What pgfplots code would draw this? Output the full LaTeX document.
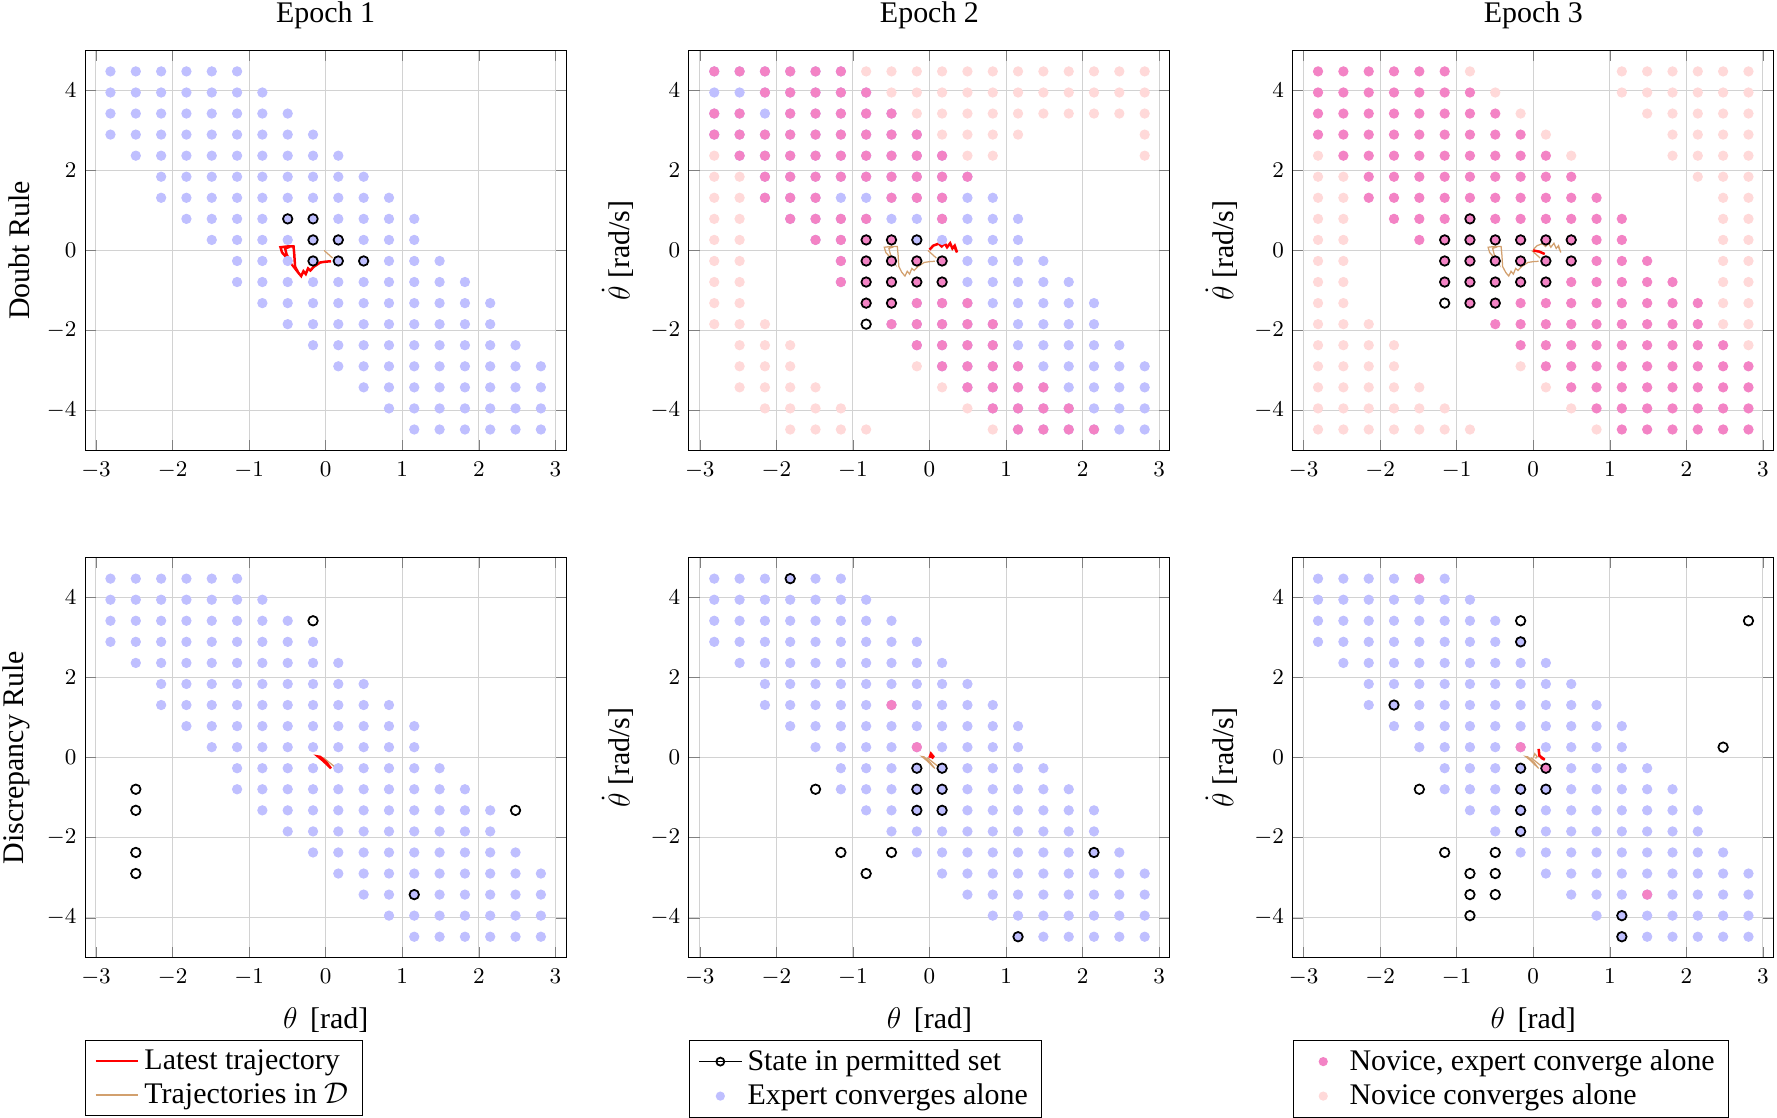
\documentclass[border=0pt]{standalone}
\usepackage{fontspec}
\setmainfont{Liberation Serif}
\usepackage{pgfplots}
\usepackage{pgfplotstable}
\pgfplotsset{compat=1.18}

\definecolor{cexp}{RGB}{191,191,255}
\definecolor{cboth}{RGB}{243,131,197}
\definecolor{cnov}{RGB}{255,217,217}
\definecolor{ctraj}{RGB}{210,160,110}

% full grid region where the expert converges alone
\pgfplotstableread[row sep=\\]{x y\\
-2.811 4.474\\ -2.480 4.474\\ -2.149 4.474\\ -1.819 4.474\\ -1.488 4.474\\ -1.157 4.474\\
-2.811 3.947\\ -2.480 3.947\\ -2.149 3.947\\ -1.819 3.947\\ -1.488 3.947\\ -1.157 3.947\\ -0.827 3.947\\
-2.811 3.421\\ -2.480 3.421\\ -2.149 3.421\\ -1.819 3.421\\ -1.488 3.421\\ -1.157 3.421\\ -0.827 3.421\\ -0.496 3.421\\
-2.811 2.895\\ -2.480 2.895\\ -2.149 2.895\\ -1.819 2.895\\ -1.488 2.895\\ -1.157 2.895\\ -0.827 2.895\\ -0.496 2.895\\ -0.165 2.895\\
-2.480 2.368\\ -2.149 2.368\\ -1.819 2.368\\ -1.488 2.368\\ -1.157 2.368\\ -0.827 2.368\\ -0.496 2.368\\ -0.165 2.368\\ 0.165 2.368\\
-2.149 1.842\\ -1.819 1.842\\ -1.488 1.842\\ -1.157 1.842\\ -0.827 1.842\\ -0.496 1.842\\ -0.165 1.842\\ 0.165 1.842\\ 0.496 1.842\\
-2.149 1.316\\ -1.819 1.316\\ -1.488 1.316\\ -1.157 1.316\\ -0.827 1.316\\ -0.496 1.316\\ -0.165 1.316\\ 0.165 1.316\\ 0.496 1.316\\ 0.827 1.316\\
-1.819 0.789\\ -1.488 0.789\\ -1.157 0.789\\ -0.827 0.789\\ -0.496 0.789\\ -0.165 0.789\\ 0.165 0.789\\ 0.496 0.789\\ 0.827 0.789\\ 1.157 0.789\\
-1.488 0.263\\ -1.157 0.263\\ -0.827 0.263\\ -0.496 0.263\\ -0.165 0.263\\ 0.165 0.263\\ 0.496 0.263\\ 0.827 0.263\\ 1.157 0.263\\
-1.157 -0.263\\ -0.827 -0.263\\ -0.496 -0.263\\ -0.165 -0.263\\ 0.165 -0.263\\ 0.496 -0.263\\ 0.827 -0.263\\ 1.157 -0.263\\ 1.488 -0.263\\
-1.157 -0.789\\ -0.827 -0.789\\ -0.496 -0.789\\ -0.165 -0.789\\ 0.165 -0.789\\ 0.496 -0.789\\ 0.827 -0.789\\ 1.157 -0.789\\ 1.488 -0.789\\ 1.819 -0.789\\
-0.827 -1.316\\ -0.496 -1.316\\ -0.165 -1.316\\ 0.165 -1.316\\ 0.496 -1.316\\ 0.827 -1.316\\ 1.157 -1.316\\ 1.488 -1.316\\ 1.819 -1.316\\ 2.149 -1.316\\
-0.496 -1.842\\ -0.165 -1.842\\ 0.165 -1.842\\ 0.496 -1.842\\ 0.827 -1.842\\ 1.157 -1.842\\ 1.488 -1.842\\ 1.819 -1.842\\ 2.149 -1.842\\
-0.165 -2.368\\ 0.165 -2.368\\ 0.496 -2.368\\ 0.827 -2.368\\ 1.157 -2.368\\ 1.488 -2.368\\ 1.819 -2.368\\ 2.149 -2.368\\ 2.480 -2.368\\
0.165 -2.895\\ 0.496 -2.895\\ 0.827 -2.895\\ 1.157 -2.895\\ 1.488 -2.895\\ 1.819 -2.895\\ 2.149 -2.895\\ 2.480 -2.895\\ 2.811 -2.895\\
0.496 -3.421\\ 0.827 -3.421\\ 1.157 -3.421\\ 1.488 -3.421\\ 1.819 -3.421\\ 2.149 -3.421\\ 2.480 -3.421\\ 2.811 -3.421\\
0.827 -3.947\\ 1.157 -3.947\\ 1.488 -3.947\\ 1.819 -3.947\\ 2.149 -3.947\\ 2.480 -3.947\\ 2.811 -3.947\\
1.157 -4.474\\ 1.488 -4.474\\ 1.819 -4.474\\ 2.149 -4.474\\ 2.480 -4.474\\ 2.811 -4.474\\
}\band

% Doubt rule, epoch 2: novice and expert converge
\pgfplotstableread[row sep=\\]{x y\\
-2.811 4.474\\ -2.480 4.474\\ -2.149 4.474\\ -1.819 4.474\\ -1.488 4.474\\ -1.157 4.474\\
-2.149 3.947\\ -1.819 3.947\\ -1.488 3.947\\ -1.157 3.947\\ -0.827 3.947\\
-2.811 3.421\\ -2.480 3.421\\ -1.819 3.421\\ -1.488 3.421\\ -1.157 3.421\\ -0.827 3.421\\ -0.496 3.421\\
-2.811 2.895\\ -2.480 2.895\\ -2.149 2.895\\ -1.819 2.895\\ -1.488 2.895\\ -1.157 2.895\\ -0.827 2.895\\ -0.496 2.895\\ -0.165 2.895\\
-2.480 2.368\\ -2.149 2.368\\ -1.819 2.368\\ -1.488 2.368\\ -1.157 2.368\\ -0.827 2.368\\ -0.496 2.368\\ -0.165 2.368\\ 0.165 2.368\\
-2.149 1.842\\ -1.819 1.842\\ -1.488 1.842\\ -1.157 1.842\\ -0.827 1.842\\ -0.496 1.842\\ -0.165 1.842\\ 0.165 1.842\\ 0.496 1.842\\
-2.149 1.316\\ -1.819 1.316\\ -1.488 1.316\\ -0.496 1.316\\ -0.165 1.316\\ 0.165 1.316\\
-1.819 0.789\\ -1.488 0.789\\ -1.157 0.789\\ -0.827 0.789\\ 0.165 0.789\\
-1.488 0.263\\ -1.157 0.263\\ -0.827 0.263\\ -0.496 0.263\\
-1.157 -0.263\\ -0.827 -0.263\\ -0.496 -0.263\\ -0.165 -0.263\\ 0.165 -0.263\\
-1.157 -0.789\\ -0.827 -0.789\\ -0.496 -0.789\\ -0.165 -0.789\\ 0.165 -0.789\\
-0.827 -1.316\\ -0.496 -1.316\\ -0.165 -1.316\\ 0.165 -1.316\\ 0.496 -1.316\\
-0.496 -1.842\\ -0.165 -1.842\\ 0.165 -1.842\\ 0.496 -1.842\\ 0.827 -1.842\\
-0.165 -2.368\\ 0.165 -2.368\\ 0.496 -2.368\\ 0.827 -2.368\\
0.165 -2.895\\ 0.496 -2.895\\ 0.827 -2.895\\ 1.157 -2.895\\
0.496 -3.421\\ 0.827 -3.421\\ 1.157 -3.421\\ 1.488 -3.421\\
0.827 -3.947\\ 1.157 -3.947\\ 1.488 -3.947\\ 1.819 -3.947\\
1.157 -4.474\\ 1.488 -4.474\\ 1.819 -4.474\\ 2.149 -4.474\\
}\MixB

% Doubt rule, epoch 2: novice converges alone
\pgfplotstableread[row sep=\\]{x y\\
-0.827 4.474\\ -0.496 4.474\\ -0.165 4.474\\ 0.165 4.474\\ 0.496 4.474\\ 0.827 4.474\\ 1.157 4.474\\ 1.488 4.474\\ 1.819 4.474\\ 2.149 4.474\\ 2.480 4.474\\ 2.811 4.474\\
-0.496 3.947\\ -0.165 3.947\\ 0.165 3.947\\ 0.496 3.947\\ 0.827 3.947\\ 1.157 3.947\\ 1.488 3.947\\ 1.819 3.947\\ 2.149 3.947\\ 2.480 3.947\\ 2.811 3.947\\
-0.165 3.421\\ 0.165 3.421\\ 0.496 3.421\\ 0.827 3.421\\ 1.157 3.421\\ 1.488 3.421\\ 1.819 3.421\\ 2.149 3.421\\ 2.480 3.421\\ 2.811 3.421\\
0.165 2.895\\ 0.496 2.895\\ 0.827 2.895\\ 1.157 2.895\\ 2.811 2.895\\
-2.811 2.368\\ 0.496 2.368\\ 0.827 2.368\\ 2.811 2.368\\
-2.811 1.842\\ -2.480 1.842\\
-2.811 1.316\\ -2.480 1.316\\
-2.811 0.789\\ -2.480 0.789\\
-2.811 0.263\\ -2.480 0.263\\
-2.811 -0.263\\ -2.480 -0.263\\
-2.811 -0.789\\ -2.480 -0.789\\
-2.811 -1.316\\ -2.480 -1.316\\
-2.811 -1.842\\ -2.480 -1.842\\ -2.149 -1.842\\
-2.480 -2.368\\ -2.149 -2.368\\ -1.819 -2.368\\
-2.480 -2.895\\ -2.149 -2.895\\ -1.819 -2.895\\ -0.165 -2.895\\
-2.480 -3.421\\ -2.149 -3.421\\ -1.819 -3.421\\ -1.488 -3.421\\ 0.165 -3.421\\
-2.149 -3.947\\ -1.819 -3.947\\ -1.488 -3.947\\ -1.157 -3.947\\ 0.496 -3.947\\
-1.819 -4.474\\ -1.488 -4.474\\ -1.157 -4.474\\ -0.827 -4.474\\ 0.827 -4.474\\
}\NovB

% Doubt rule, epoch 3: novice converges alone
\pgfplotstableread[row sep=\\]{x y\\
-0.827 4.474\\ 1.157 4.474\\ 1.488 4.474\\ 1.819 4.474\\ 2.149 4.474\\ 2.480 4.474\\ 2.811 4.474\\
-0.496 3.947\\ 1.157 3.947\\ 1.488 3.947\\ 1.819 3.947\\ 2.149 3.947\\ 2.480 3.947\\ 2.811 3.947\\
-0.165 3.421\\ 1.488 3.421\\ 1.819 3.421\\ 2.149 3.421\\ 2.480 3.421\\ 2.811 3.421\\
0.165 2.895\\ 1.819 2.895\\ 2.149 2.895\\ 2.480 2.895\\ 2.811 2.895\\
-2.811 2.368\\ 0.496 2.368\\ 1.819 2.368\\ 2.149 2.368\\ 2.480 2.368\\ 2.811 2.368\\
-2.811 1.842\\ -2.480 1.842\\ 2.149 1.842\\ 2.480 1.842\\ 2.811 1.842\\
-2.811 1.316\\ -2.480 1.316\\ 2.480 1.316\\ 2.811 1.316\\
-2.811 0.789\\ -2.480 0.789\\ 2.480 0.789\\ 2.811 0.789\\
-2.811 0.263\\ -2.480 0.263\\ 2.480 0.263\\ 2.811 0.263\\
-2.811 -0.263\\ -2.480 -0.263\\ 2.480 -0.263\\ 2.811 -0.263\\
-2.811 -0.789\\ -2.480 -0.789\\ 2.480 -0.789\\ 2.811 -0.789\\
-2.811 -1.316\\ -2.480 -1.316\\ 2.480 -1.316\\ 2.811 -1.316\\
-2.811 -1.842\\ -2.480 -1.842\\ -2.149 -1.842\\ 2.480 -1.842\\ 2.811 -1.842\\
-2.811 -2.368\\ -2.480 -2.368\\ -2.149 -2.368\\ -1.819 -2.368\\ 2.811 -2.368\\
-2.811 -2.895\\ -2.480 -2.895\\ -2.149 -2.895\\ -1.819 -2.895\\ -0.165 -2.895\\
-2.811 -3.421\\ -2.480 -3.421\\ -2.149 -3.421\\ -1.819 -3.421\\ -1.488 -3.421\\ 0.165 -3.421\\
-2.811 -3.947\\ -2.480 -3.947\\ -2.149 -3.947\\ -1.819 -3.947\\ -1.488 -3.947\\ -1.157 -3.947\\ 0.496 -3.947\\
-2.811 -4.474\\ -2.480 -4.474\\ -2.149 -4.474\\ -1.819 -4.474\\ -1.488 -4.474\\ -1.157 -4.474\\ -0.827 -4.474\\ 0.827 -4.474\\
}\NovC

% permitted sets, doubt rule
\pgfplotstableread[row sep=\\]{x y\\
-0.496 0.789\\ -0.165 0.789\\ -0.165 0.263\\ 0.165 0.263\\ -0.165 -0.263\\ 0.165 -0.263\\ 0.496 -0.263\\
}\DbA
\pgfplotstableread[row sep=\\]{x y\\
-0.827 0.263\\ -0.496 0.263\\ -0.165 0.263\\
-0.827 -0.263\\ -0.496 -0.263\\ -0.165 -0.263\\ 0.165 -0.263\\
-0.827 -0.789\\ -0.496 -0.789\\ -0.165 -0.789\\ 0.165 -0.789\\
-0.827 -1.316\\ -0.496 -1.316\\ -0.827 -1.842\\
}\DbB
\pgfplotstableread[row sep=\\]{x y\\
-0.827 0.789\\
-1.157 0.263\\ -0.827 0.263\\ -0.496 0.263\\ -0.165 0.263\\ 0.165 0.263\\ 0.496 0.263\\
-1.157 -0.263\\ -0.827 -0.263\\ -0.496 -0.263\\ -0.165 -0.263\\ 0.165 -0.263\\ 0.496 -0.263\\
-1.157 -0.789\\ -0.827 -0.789\\ -0.496 -0.789\\ -0.165 -0.789\\ 0.165 -0.789\\
-1.157 -1.316\\ -0.827 -1.316\\ -0.496 -1.316\\
}\DbC

% permitted sets, discrepancy rule
\pgfplotstableread[row sep=\\]{x y\\
-0.165 3.421\\ -2.480 -0.789\\ -2.480 -1.316\\ -2.480 -2.368\\ -2.480 -2.895\\ 2.480 -1.316\\ 1.157 -3.421\\
}\DsA
\pgfplotstableread[row sep=\\]{x y\\
-1.819 4.474\\ -0.165 -0.263\\ 0.165 -0.263\\ -0.165 -0.789\\ 0.165 -0.789\\ -0.165 -1.316\\ 0.165 -1.316\\
-1.488 -0.789\\ -1.157 -2.368\\ -0.496 -2.368\\ -0.827 -2.895\\ 2.149 -2.368\\ 1.157 -4.474\\
}\DsB
\pgfplotstableread[row sep=\\]{x y\\
-0.165 3.421\\ 2.811 3.421\\ -0.165 2.895\\ -1.819 1.316\\ 2.480 0.263\\
-0.165 -0.263\\ 0.165 -0.263\\ -1.488 -0.789\\ -0.165 -0.789\\ 0.165 -0.789\\
-0.165 -1.316\\ -0.165 -1.842\\ -1.157 -2.368\\ -0.496 -2.368\\
-0.827 -2.895\\ -0.496 -2.895\\ -0.827 -3.421\\ -0.496 -3.421\\
-0.827 -3.947\\ 1.157 -3.947\\ 1.157 -4.474\\
}\DsC
\pgfplotstableread[row sep=\\]{x y\\
-0.496 1.316\\ -0.165 0.263\\
}\DsMB
\pgfplotstableread[row sep=\\]{x y\\
-1.488 4.474\\ -0.165 0.263\\ 0.165 -0.263\\ 1.488 -3.421\\
}\DsMC

% trajectories
\pgfplotstableread[row sep=\\]{x y\\
0.07 -0.27\\ 0.00 -0.28\\ -0.07 -0.30\\ -0.15 -0.40\\ -0.20 -0.50\\ -0.23 -0.45\\ -0.26 -0.59\\
-0.29 -0.52\\ -0.32 -0.64\\ -0.36 -0.55\\ -0.40 -0.40\\ -0.41 -0.10\\ -0.42 0.10\\ -0.50 0.10\\
-0.59 0.08\\ -0.57 -0.05\\ -0.50 -0.20\\ -0.46 -0.30\\ -0.51 -0.10\\ -0.53 0.05\\ -0.47 0.09\\
}\TrA
\pgfplotstableread[row sep=\\]{x y\\
-0.02 0.00\\ 0.09 -0.19\\
}\TrB
\pgfplotstableread[row sep=\\]{x y\\
0.00 0.02\\ 0.05 0.12\\ 0.12 0.17\\ 0.16 0.10\\ 0.20 0.18\\ 0.23 0.08\\ 0.27 0.18\\
0.30 0.05\\ 0.33 0.12\\ 0.36 -0.05\\ 0.33 0.08\\
}\TrC
\pgfplotstableread[row sep=\\]{x y\\
0.00 0.00\\ 0.08 -0.03\\ 0.15 -0.09\\
}\TrD
\pgfplotstableread[row sep=\\]{x y\\
0.06 -0.25\\ -0.03 -0.08\\ -0.10 0.03\\ -0.07 0.02\\ 0.01 -0.12\\ 0.07 -0.27\\
}\TrE
\pgfplotstableread[row sep=\\]{x y\\
-0.03 0.00\\ 0.12 -0.23\\
}\TrF
\pgfplotstableread[row sep=\\]{x y\\
0.00 0.00\\ 0.02 0.10\\ 0.05 0.03\\ 0.03 -0.02\\
}\TrG
\pgfplotstableread[row sep=\\]{x y\\
0.07 0.22\\ 0.08 0.05\\ 0.15 -0.05\\ 0.10 0.00\\
}\TrH

\pgfplotsset{
  every axis title/.style={at={(0.5,1)}, anchor=south, yshift=8.1pt, inner sep=0.5pt,
    font=\fontsize{12}{14}\selectfont},
  cell/.style={
    scale only axis, width=192.8pt, height=160.4pt,
    xmin=-3.14159, xmax=3.14159, ymin=-5, ymax=5,
    xtick={-3,-2,-1,0,1,2,3}, ytick={-4,-2,0,2,4},
    grid=major, major grid style={line width=0.4pt, draw=gray!35},
    tick label style={font=\fontsize{9}{10}\selectfont},
    xticklabel style={yshift=-1pt},
    label style={font=\fontsize{12}{14}\selectfont},
    xlabel style={yshift=-1.8pt},
    ylabel style={inner sep=1pt},
    ylabel shift=2.33pt,
    legend style={at={(0,0)}, anchor=north west, yshift=-33pt,
      font=\fontsize{12}{13}\selectfont, draw=black, cells={anchor=west},
      inner xsep=3.5pt, inner ysep=1.5pt, row sep=0pt, nodes={inner sep=2pt}},
    legend cell align=left,
  },
  pexp/.style={only marks, mark=*, mark size=1.85pt, color=cexp, forget plot},
  pboth/.style={only marks, mark=*, mark size=1.85pt, color=cboth, forget plot},
  pnov/.style={only marks, mark=*, mark size=1.85pt, color=cnov, forget plot},
  pperm/.style={only marks, mark=o, mark size=1.9pt, color=black, mark options={line width=0.7pt}, forget plot},
  plast/.style={no marks, red, line width=1pt, forget plot},
  pold/.style={no marks, ctraj, line width=0.5pt, forget plot},
  dotleg/.style={legend image code/.code={
      \path[draw=none, fill=none] (0cm,-0.01cm) rectangle (0.6cm,0.01cm);
      \fill[#1, draw=none] (0.3cm,0cm) circle (1.85pt);}},
}

\begin{document}
\begin{tikzpicture}
% ---------- Doubt rule ----------
\begin{axis}[cell, at={(0pt,0pt)}, anchor=north west, title={Epoch 1}, ylabel={Doubt Rule}]
  \addplot[pexp] table {\band};
  \addplot[pold] table {\TrB};
  \addplot[plast] table {\TrA};
  \addplot[pperm] table {\DbA};
\end{axis}
\begin{axis}[cell, at={(242pt,0pt)}, anchor=north west, title={Epoch 2}, ylabel={$\dot{\theta}$ [rad/s]}]
  \addplot[pexp] table {\band};
  \addplot[pboth] table {\MixB};
  \addplot[pnov] table {\NovB};
  \addplot[pold] table {\TrA};
  \addplot[pold] table {\TrB};
  \addplot[plast] table {\TrC};
  \addplot[pperm] table {\DbB};
\end{axis}
\begin{axis}[cell, at={(484pt,0pt)}, anchor=north west, title={Epoch 3}, ylabel={$\dot{\theta}$ [rad/s]}]
  \addplot[pboth] table {\band};
  \addplot[pnov] table {\NovC};
  \addplot[pold] table {\TrA};
  \addplot[pold] table {\TrB};
  \addplot[pold] table {\TrC};
  \addplot[plast] table {\TrD};
  \addplot[pperm] table {\DbC};
\end{axis}
% ---------- Discrepancy rule ----------
\begin{axis}[cell, at={(0pt,-203.3pt)}, anchor=north west, ylabel={Discrepancy Rule}, xlabel={$\theta$\, [rad]}]
  \addplot[pexp] table {\band};
  \addplot[pold] table {\TrF};
  \addplot[plast] table {\TrE};
  \addplot[pperm] table {\DsA};
  \addlegendimage{red, line width=1pt}
  \addlegendentry{Latest trajectory}
  \addlegendimage{ctraj, line width=0.5pt}
  \addlegendentry{Trajectories in $\mathcal{D}$}
\end{axis}
\begin{axis}[cell, at={(242pt,-203.3pt)}, anchor=north west, ylabel={$\dot{\theta}$ [rad/s]}, xlabel={$\theta$\, [rad]}]
  \addplot[pexp] table {\band};
  \addplot[pboth] table {\DsMB};
  \addplot[pold] table {\TrE};
  \addplot[pold] table {\TrF};
  \addplot[plast] table {\TrG};
  \addplot[pperm] table {\DsB};
  \addlegendimage{black, line width=0.7pt, mark=o, mark size=1.6pt}
  \addlegendentry{State in permitted set}
  \addlegendimage{dotleg=cexp}
  \addlegendentry{Expert converges alone}
\end{axis}
\begin{axis}[cell, at={(484pt,-203.3pt)}, anchor=north west, ylabel={$\dot{\theta}$ [rad/s]}, xlabel={$\theta$\, [rad]}]
  \addplot[pexp] table {\band};
  \addplot[pboth] table {\DsMC};
  \addplot[pold] table {\TrE};
  \addplot[pold] table {\TrF};
  \addplot[pold] table {\TrG};
  \addplot[plast] table {\TrH};
  \addplot[pperm] table {\DsC};
  \addlegendimage{dotleg=cboth}
  \addlegendentry{Novice, expert converge alone}
  \addlegendimage{dotleg=cnov}
  \addlegendentry{Novice converges alone}
\end{axis}
\end{tikzpicture}
\end{document}
